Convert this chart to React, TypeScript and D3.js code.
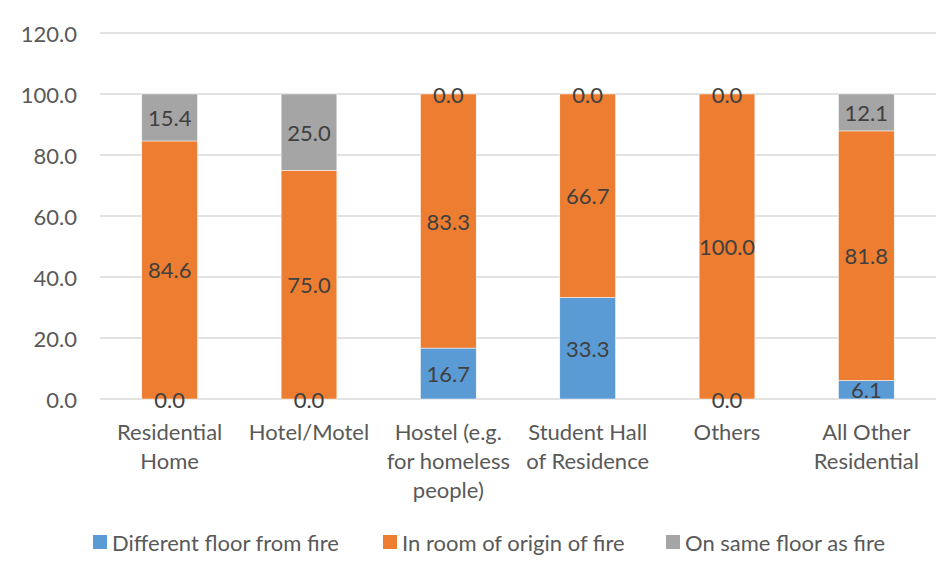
import React from "react";
import * as d3 from "d3";

const categories = [
  "Residential Home",
  "Hotel/Motel",
  "Hostel (e.g. for homeless people)",
  "Student Hall of Residence",
  "Others",
  "All Other Residential",
];
const categoryLines = [
  ["Residential", "Home"],
  ["Hotel/Motel"],
  ["Hostel (e.g.", "for homeless", "people)"],
  ["Student Hall", "of Residence"],
  ["Others"],
  ["All Other", "Residential"],
];
const seriesNames = [
  "Different floor from fire",
  "In room of origin of fire",
  "On same floor as fire",
];
const differentFloor = [0.0, 0.0, 16.7, 33.3, 0.0, 6.1];
const roomOfOrigin = [84.6, 75.0, 83.3, 66.7, 100.0, 81.8];
const sameFloor = [15.4, 25.0, 0.0, 0.0, 0.0, 12.1];
const yTicks = [0, 20, 40, 60, 80, 100, 120];
const colors = ["#5B9BD5", "#ED7D31", "#A5A5A5"];

const W = 952;
const H = 577;
const FONT = "Lato, 'Open Sans', sans-serif";
const FS = 22;

export default function App() {
  const x = d3.scaleBand<string>().domain(categories).range([100, 936]).paddingInner(0.6).paddingOuter(0.3);
  const y = d3.scaleLinear().domain([0, 120]).range([399, 33]);

  const rows = categories.map((c, i) => ({
    cat: c,
    s0: differentFloor[i],
    s1: roomOfOrigin[i],
    s2: sameFloor[i],
  }));
  const stack = d3.stack<any>().keys(["s0", "s1", "s2"]);
  const layers = stack(rows);

  const legendX = [93, 383, 666];

  return (
    <div style={{ margin: -8 }}>
      <svg width={W} height={H} style={{ display: "block", fontFamily: FONT }}>
        <rect x={0} y={0} width={W} height={H} fill="#fff" />
        <line x1={5} x2={W} y1={3.5} y2={3.5} stroke="#d9d9d9" strokeWidth={1.5} />
        <line x1={5.5} x2={5.5} y1={3} y2={H} stroke="#d9d9d9" strokeWidth={1.5} />
        {yTicks.map((t) => (
          <g key={t}>
            <line x1={100} x2={936} y1={y(t)} y2={y(t)} stroke="#d9d9d9" strokeWidth={1.3} />
            <text x={77} y={y(t)} textAnchor="end" dominantBaseline="central" fontSize={FS} fill="#595959">
              {t.toFixed(1)}
            </text>
          </g>
        ))}
        {layers.map((layer, li) => (
          <g key={li}>
            {layer.map((d, i) => (
              <rect
                key={i}
                x={x(categories[i])}
                y={y(d[1])}
                width={x.bandwidth()}
                height={y(d[0]) - y(d[1])}
                fill={colors[li]}
                stroke="#fff"
                strokeWidth={0.5}
              />
            ))}
          </g>
        ))}
        {layers.map((layer, li) => (
          <g key={"l" + li}>
            {layer.map((d, i) => (
              <text
                key={i}
                x={(x(categories[i]) as number) + x.bandwidth() / 2}
                y={y((d[0] + d[1]) / 2)}
                textAnchor="middle"
                dominantBaseline="central"
                fontSize={FS}
                fill="#404040"
              >
                {(d[1] - d[0]).toFixed(1)}
              </text>
            ))}
          </g>
        ))}
        {categoryLines.map((lines, i) => (
          <text
            key={i}
            x={(x(categories[i]) as number) + x.bandwidth() / 2}
            textAnchor="middle"
            fontSize={FS}
            fill="#595959"
          >
            {lines.map((l, j) => (
              <tspan key={j} x={(x(categories[i]) as number) + x.bandwidth() / 2} y={431 + j * 29} dominantBaseline="central">
                {l}
              </tspan>
            ))}
          </text>
        ))}
        {seriesNames.map((s, i) => (
          <g key={s}>
            <rect x={legendX[i]} y={535} width={14} height={14} fill={colors[i]} />
            <text x={legendX[i] + 19} y={542} dominantBaseline="central" fontSize={FS} fill="#595959">
              {s}
            </text>
          </g>
        ))}
      </svg>
    </div>
  );
}
